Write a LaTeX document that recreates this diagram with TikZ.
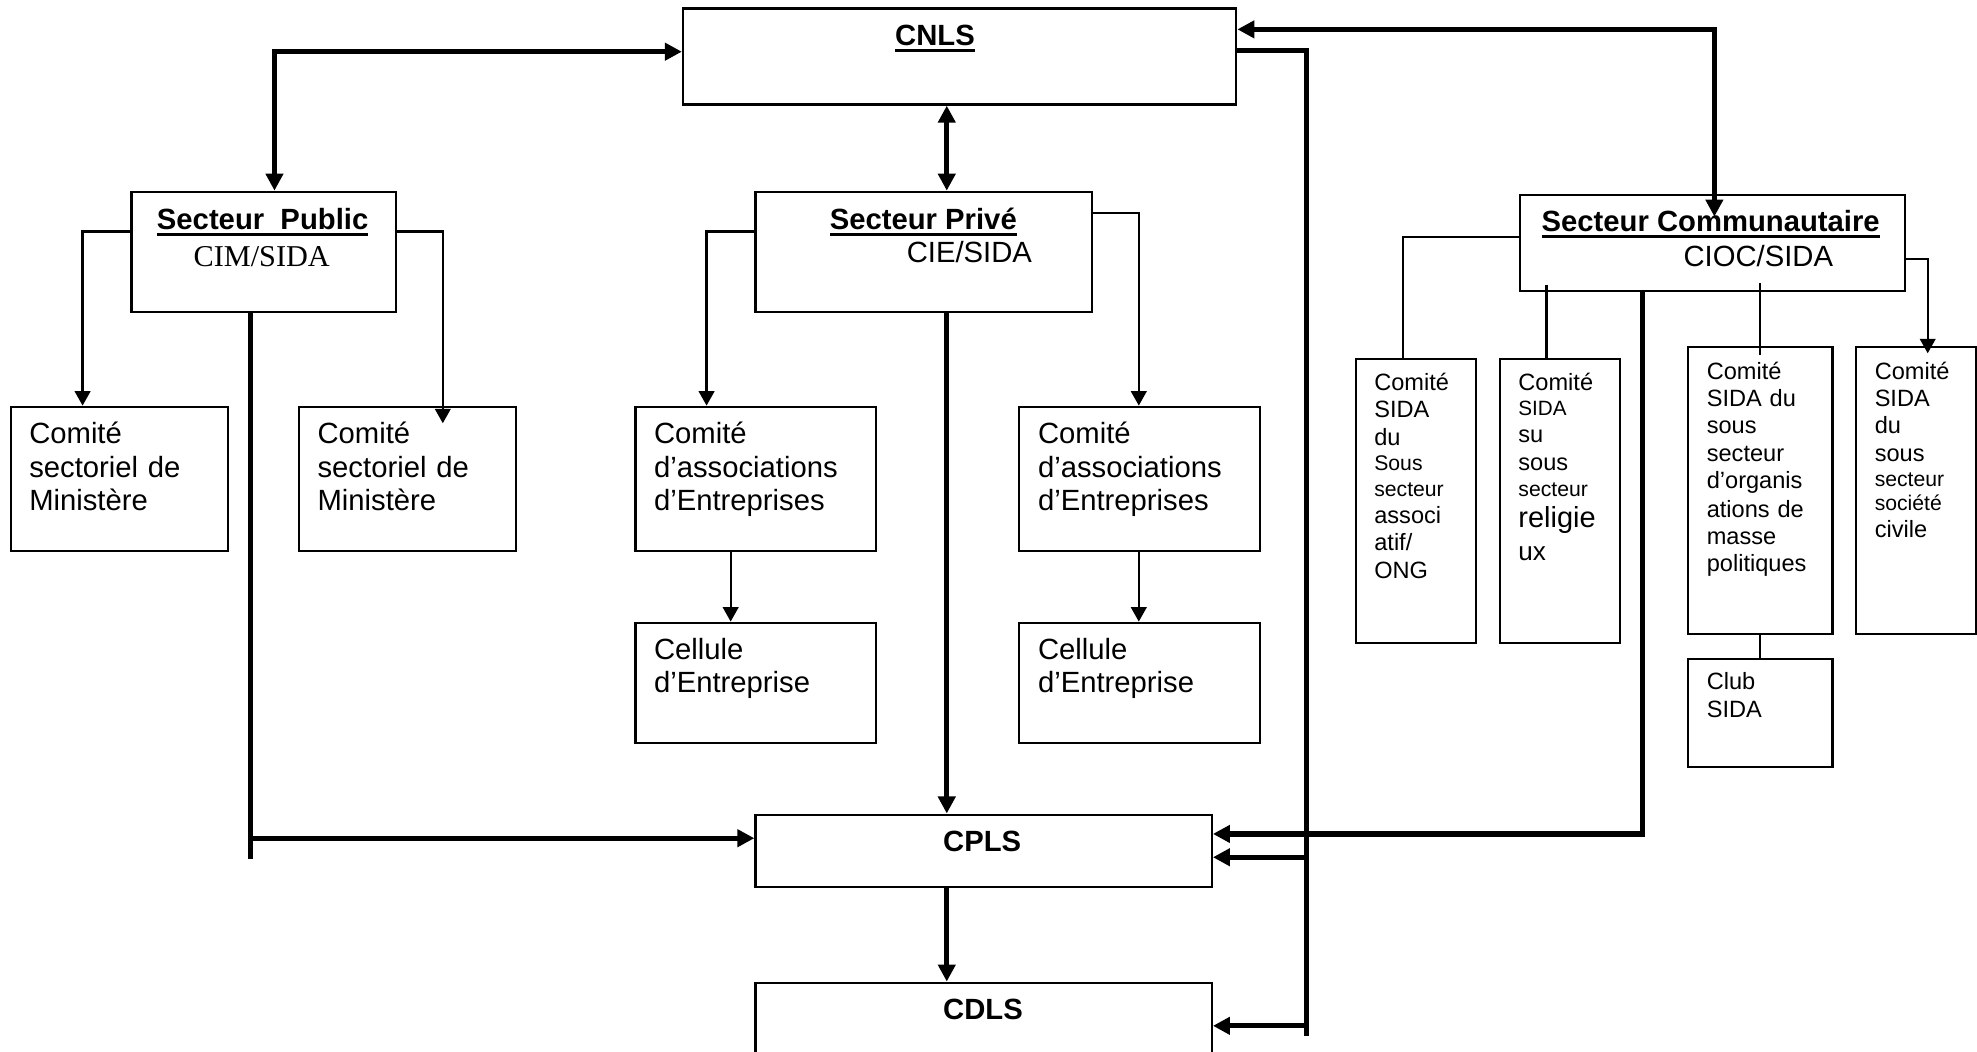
\documentclass[tikz,border=0pt]{standalone}
\usepackage{fontspec}
\setmainfont{Liberation Sans}
\newfontfamily\timesfam{Liberation Serif}
\usetikzlibrary{arrows.meta,calc}
\newcommand\myul[1]{\setbox0\hbox{#1}\rlap{\rule[-5.2pt]{\wd0}{2.6pt}}\box0}
\newcommand\fsz[1]{\fontsize{#1}{21.5}\selectfont}
\begin{document}
\begin{tikzpicture}[x=1pt,y=-1pt,
  box/.style={draw, line width=1.8pt, inner sep=0pt, anchor=north west, rectangle},
  thn/.style={line width=1.8pt},
  thk/.style={line width=4.2pt},
  thnar/.style={thn, -{Triangle[length=11.5pt,width=12.4pt]}},
  thkar/.style={thk, -{Triangle[length=13.5pt,width=13.5pt]}},
  thkbi/.style={thk, {Triangle[length=13.5pt,width=13.5pt]}-{Triangle[length=13.5pt,width=13.5pt]}},
  txt/.style={anchor=base west, inner sep=0pt, align=left, text width=150pt, font=\fontsize{23.2}{26.5}\selectfont},
  stxt/.style={anchor=base west, inner sep=0pt, align=left, text width=#1, font=\fontsize{18.7}{21.5}\selectfont},
  stxt/.default=78pt,
  ttl/.style={anchor=base, inner sep=0pt, font=\bfseries\fontsize{23.2}{26.5}\selectfont},
  subt/.style={anchor=base west, inner sep=0pt, font=\fontsize{23.2}{26.5}\selectfont}
]
\useasboundingbox (0,0) rectangle (1568,834);
\fill[white] (0,0) rectangle (1568,834);
\clip (0,0) rectangle (1568,834);

% boxes
\node[box, minimum width=438.8pt, minimum height=76.2pt] (cnls) at (540.8,5.8) {};
\node[box, minimum width=209.6pt, minimum height=95.4pt] (pub) at (103.4,151.2) {};
\node[box, minimum width=266.9pt, minimum height=95.4pt] (priv) at (598.3,151.2) {};
\node[box, minimum width=305.2pt, minimum height=76.2pt] (comm) at (1204.5,153.8) {};
\node[box, minimum width=172.1pt, minimum height=114.5pt] (pub1) at (7.8,321.7) {};
\node[box, minimum width=171.7pt, minimum height=114.5pt] (pub2) at (236.5,321.7) {};
\node[box, minimum width=190.5pt, minimum height=114.5pt] (asA) at (503.1,321.7) {};
\node[box, minimum width=190.8pt, minimum height=114.5pt] (asB) at (807.5,321.7) {};
\node[box, minimum width=190.5pt, minimum height=95.2pt] (celA) at (503.1,493) {};
\node[box, minimum width=190.8pt, minimum height=95.2pt] (celB) at (807.5,493) {};
\node[box, minimum width=361.9pt, minimum height=57.4pt] (cpls) at (598.3,645.2) {};
\node[box, minimum width=361.9pt, minimum height=71.5pt] (cdls) at (598.3,778.5) {};
\node[box, minimum width=95.6pt, minimum height=225.2pt] (c1) at (1074.4,283.6) {};
\node[box, minimum width=95.3pt, minimum height=225.2pt] (c2) at (1188.7,283.6) {};
\node[box, minimum width=114.3pt, minimum height=228.1pt] (c3) at (1338.1,274.1) {};
\node[box, minimum width=94.8pt, minimum height=228.1pt] (c4) at (1471.3,274.1) {};
\node[box, minimum width=114.3pt, minimum height=85.7pt] (club) at (1338.1,521.5) {};

% titles
\node[ttl] (cnlsT) at (741.6,36.3) {\myul{CNLS}};
\node[ttl] (pubT) at (208.3,181.9) {\myul{Secteur\ \ Public}};
\node[anchor=base, inner sep=0pt, font=\timesfam\fontsize{24}{27}\selectfont] (pubS) at (207.6,211) {CIM/SIDA};
\node[ttl] (privT) at (732.3,181.9) {\myul{Secteur Privé}};
\node[subt] (privS) at (719,208.3) {CIE/SIDA};
\node[ttl, anchor=base west] (commT) at (1222.5,183.7) {\myul{Secteur Communautaire}};
\node[subt] (commS) at (1335,211) {CIOC/SIDA};
\node[ttl] (cplsT) at (779,675.4) {CPLS};
\node[ttl] (cdlsT) at (779.6,808.9) {CDLS};

% box texts
\node[txt] (pub1T) at ($(pub1.north west)+(15.2,30.4)$) {Comité\\sectoriel de\\Ministère};
\node[txt] (pub2T) at ($(pub2.north west)+(15.2,30.4)$) {Comité\\sectoriel de\\Ministère};
\node[txt] (asAT) at ($(asA.north west)+(15.4,30.4)$) {Comité\\d’associations\\d’Entreprises};
\node[txt] (asBT) at ($(asB.north west)+(15.6,30.4)$) {Comité\\d’associations\\d’Entreprises};
\node[txt, font=\fontsize{23.2}{26}\selectfont] (celAT) at ($(celA.north west)+(15.4,30.4)$) {Cellule\\d’Entreprise};
\node[txt, font=\fontsize{23.2}{26}\selectfont] (celBT) at ($(celB.north west)+(15.6,30.4)$) {Cellule\\d’Entreprise};

\node[stxt] (c1T) at ($(c1.north west)+(15.4,26.2)$) {Comité\\SIDA\\[0.9pt]du\\[-1.7pt]{\fsz{16.8}Sous}\\[-1.4pt]{\fsz{16.8}secteur}\\associ\\atif/\\[1pt]ONG};
\node[stxt] (c2T) at ($(c2.north west)+(15.4,26.2)$) {Comité\\[-1.7pt]{\fsz{16.4}SIDA}\\su\\[0.7pt]sous\\[-1.4pt]{\fsz{16.8}secteur}\\[3.6pt]{\fsz{23}religie}\\[4.2pt]{\fsz{20.7}ux}};
\node[stxt=97pt] (c3T) at ($(c3.north west)+(15.4,26.5)$) {Comité\\SIDA du\\sous\\[1pt]secteur\\d’organis\\[1pt]ations de\\masse\\politiques};
\node[stxt] (c4T) at ($(c4.north west)+(15.4,26.5)$) {Comité\\SIDA\\du\\[1pt]sous\\[-1.7pt]{\fsz{16.8}secteur}\\[-2.4pt]{\fsz{16.8}société}\\civile};
\node[stxt=97pt] (clubT) at ($(club.north west)+(15.4,25.7)$) {Club\\SIDA};

% coordinates
\coordinate (kA) at (217.7,41);
\coordinate (kB) at (750.9,100);
\coordinate (kC) at (1359.7,23.3);
\coordinate (kC2) at (1359.7,171.8);
\coordinate (kD) at (1036,40.2);
\coordinate (kD2) at (1036,821.6);
\coordinate (kE) at (1036,679.9);
\coordinate (kF) at (1036,813.6);
\coordinate (kG) at (1302.7,300);
\coordinate (kH) at (1302.7,661.4);
\coordinate (kI) at (198.6,300);
\coordinate (kJ) at (198.6,681);
\coordinate (kK) at (198.6,664.8);
\coordinate (kL) at (65.5,183.7);
\coordinate (kM) at (351.2,183.7);
\coordinate (kM2) at (351.2,335.7);
\coordinate (kN) at (560.4,183.7);
\coordinate (kO) at (903.2,169.2);
\coordinate (kP) at (579.5,450);
\coordinate (kQ) at (1112.6,188.2);
\coordinate (kR) at (1226.6,226);
\coordinate (kS) at (1395.7,224.7);
\coordinate (kS2) at (1395.7,281.5);
\coordinate (kT) at (1528.9,205.7);
\coordinate (kT2) at (1528.9,280.2);

% thick connectors
\draw[thkbi] (cnls.west |- kA) -- (kA) -- (pub.north -| kA);
\draw[thkbi] (cnls.south -| kB) -- (priv.north -| kB);
\draw[thkbi] (cnls.east |- kC) -- (kC) -- (kC2);
\draw[thk] (cnls.east |- kD) -- (kD) -- (kD2);
\draw[thkar] (kE) -- (cpls.east |- kE);
\draw[thkar] (kF) -- (cdls.east |- kF);
\draw[thkar] (comm.south -| kG) -- (kH) -- (cpls.east |- kH);
\draw[thk] (pub.south -| kI) -- (kJ);
\draw[thkar] (kK) -- (cpls.west |- kK);
\draw[thkar] (priv.south -| kB) -- (cpls.north -| kB);
\draw[thkar] (cpls.south -| kB) -- (cdls.north -| kB);

% thin connectors
\draw[thnar] (pub.west |- kL) -- (kL) -- (pub1.north -| kL);
\draw[thnar] (pub.east |- kM) -- (kM) -- (kM2);
\draw[thnar] (priv.west |- kN) -- (kN) -- (asA.north -| kN);
\draw[thnar] (priv.east |- kO) -- (kO) -- (asB.north -| kO);
\draw[thnar] (asA.south -| kP) -- (celA.north -| kP);
\draw[thnar] (asB.south -| kO) -- (celB.north -| kO);
\draw[thn] (comm.west |- kQ) -- (kQ) -- (c1.north -| kQ);
\draw[thn] (kR) -- (c2.north -| kR);
\draw[thn] (kS) -- (kS2);
\draw[thnar] (comm.east |- kT) -- (kT) -- (kT2);
\draw[thn] (c3.south -| kS) -- (club.north -| kS);
\end{tikzpicture}
\end{document}
